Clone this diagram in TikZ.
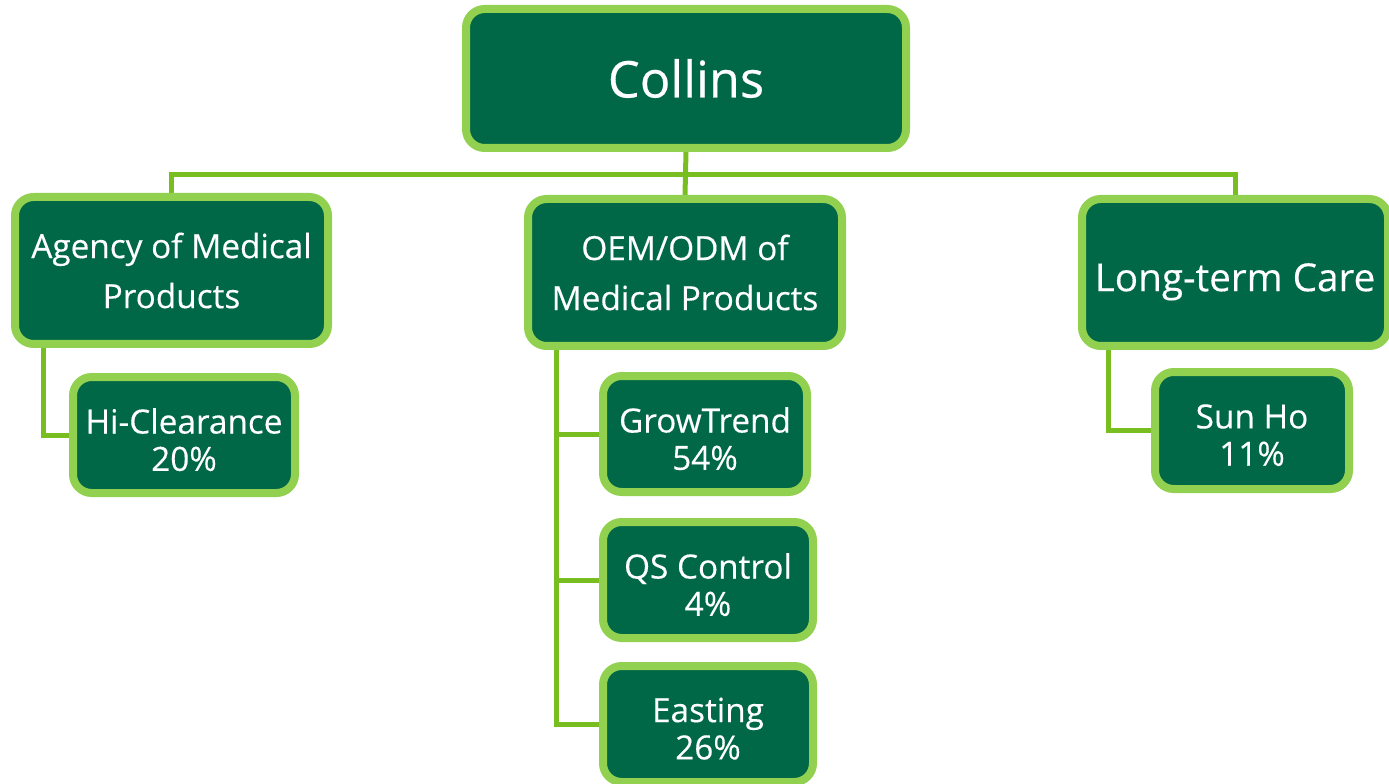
\documentclass[tikz,border=0pt]{standalone}
\usepackage{fontspec}
\setmainfont{Open Sans}[FakeBold=0.3]
\usetikzlibrary{shadows,backgrounds}
\definecolor{boxfill}{HTML}{006846}
\definecolor{boxedge}{HTML}{92D050}
\definecolor{wire}{HTML}{78BE20}
\tikzset{
  orgbox/.style={draw=boxedge, fill=boxfill, line width=6pt, rounded corners=14pt,
    inner sep=0pt,
    drop shadow={shadow xshift=1.5pt, shadow yshift=-2.5pt, opacity=0.25, fill=black}},
  boxtext/.style={text=white, align=center, inner sep=0pt},
  topbox/.style={orgbox, boxtext, font=\fontsize{38}{46}\selectfont},
  midbox/.style={orgbox, boxtext, font=\fontsize{25}{37.5}\selectfont},
  bigtext/.style={boxtext, font=\fontsize{29}{36}\selectfont, yshift=-7pt},
  leaftext/.style={boxtext, font=\fontsize{25}{28}\selectfont, yshift=-3.5pt},
  wireline/.style={draw=wire, line width=3.75pt}
}
\begin{document}
\begin{tikzpicture}[x=0.75pt, y=-0.75pt]
\useasboundingbox (0,0) rectangle (1389,784);
\node[topbox, minimum width=330pt, minimum height=104.25pt] (collins) at (686,78.5) {Collins};
\node[midbox, minimum width=234.75pt, minimum height=110.25pt] (agency) at (171.5,270.5) {Agency of Medical\\Products};
\node[midbox, minimum width=235.5pt, minimum height=110.25pt] (oem) at (685,272.5) {OEM/ODM of\\Medical Products};
\node[orgbox, minimum width=229.5pt, minimum height=110.25pt,
  label={[bigtext]center:Long-term Care}] (long) at (1235,272.5) {};
\node[orgbox, minimum width=166.5pt, minimum height=87pt,
  label={[leaftext]center:{Hi-Clearance\\20\%}}] (hic) at (184,435) {};
\node[orgbox, minimum width=153pt, minimum height=87pt,
  label={[leaftext]center:{GrowTrend\\54\%}}] (grow) at (705,434) {};
\node[orgbox, minimum width=157.5pt, minimum height=87pt,
  label={[leaftext]center:{QS Control\\4\%}}] (qs) at (708,580) {};
\node[orgbox, minimum width=157.5pt, minimum height=87pt,
  label={[leaftext]center:{Easting\\26\%}}] (east) at (708,724) {};
\node[orgbox, minimum width=145.5pt, minimum height=87.75pt,
  label={[leaftext]center:{Sun Ho\\11\%}}] (sun) at (1252,430.5) {};
\coordinate (hub) at (686,175);
\begin{scope}[on background layer]
\draw[wireline] (collins.south) -- (oem.north);
\draw[wireline] (agency.north) -- (agency.north |- hub) -- (long.north |- hub) -- (long.north);
\draw[wireline] ([xshift=24pt]agency.south west) |- (hic.west);
\draw[wireline] ([xshift=24pt]oem.south west) |- (east.west);
\draw[wireline] ([xshift=24pt]oem.south west |- grow.west) -- (grow.west);
\draw[wireline] ([xshift=24pt]oem.south west |- qs.west) -- (qs.west);
\draw[wireline] ([xshift=23pt]long.south west) |- (sun.west);
\end{scope}
\end{tikzpicture}
\end{document}
